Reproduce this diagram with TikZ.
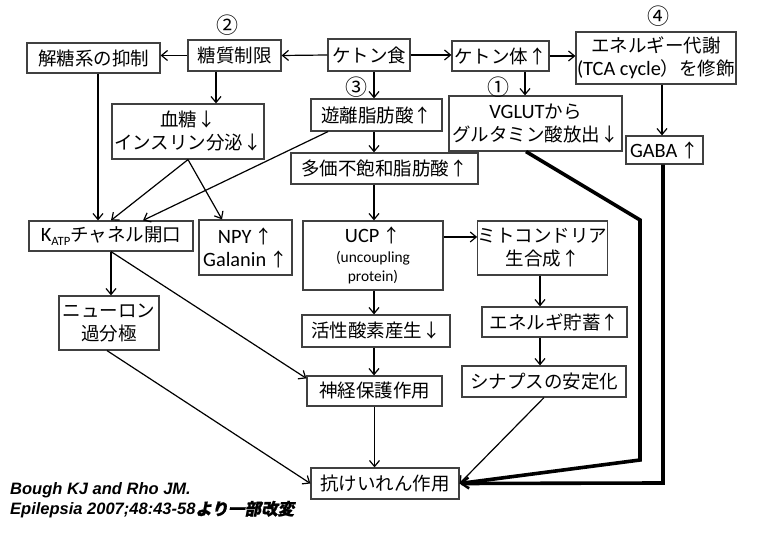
\documentclass[tikz,border=0pt]{standalone}
\usepackage{fontspec}
\setmainfont{Carlito}[Scale=1.1]
\setsansfont{Liberation Sans}
\newfontfamily\jp{Noto Sans CJK JP}
\newfontfamily\jpbi{Noto Sans CJK JP}[FakeSlant=0.2,FakeBold=1]
\newcommand\latn{\rmfamily}
\usetikzlibrary{arrows.meta}
\tikzset{
  box/.style={draw=black!75, line width=1.2pt, fill=white, inner sep=0pt, align=center,
    font=\jp\fontsize{18.5}{23}\selectfont},
  num/.style={inner sep=0pt, font=\jp\fontsize{22}{24}\selectfont},
  arr/.style={line width=1.2pt, -{Straight Barb[length=6pt,width=10pt]}},
  heavy/.style={line width=3.6pt, line join=miter,
    -{Straight Barb[length=8pt,width=11pt,line width=1.4pt]}},
  cite/.style={inner sep=0pt, anchor=base west, font=\sffamily\bfseries\itshape\fontsize{16.5}{20}\selectfont}
}
\begin{document}
\begin{tikzpicture}[x=1pt,y=-1pt]
\useasboundingbox[fill=white] (0,0) rectangle (764,534);

% nodes
\node[box,minimum width=133,minimum height=30] (gly) at (93.5,58) {解糖系の抑制};
\node[box,minimum width=93,minimum height=31] (tos) at (234.5,55.5) {糖質制限};
\node[box,minimum width=82,minimum height=32] (keto) at (369,55) {ケトン食};
\node[box,minimum width=97,minimum height=30] (ktb) at (500.5,56) {ケトン体↑};
\node[box,minimum width=160,minimum height=52] (ene) at (656,58) {エネルギー代謝\\{\latn (TCA cycle}）を修飾};
\node[box,minimum width=173,minimum height=55] (vgl) at (535.5,123.5) {{\latn VGLUT}から\\グルタミン酸放出↓};
\node[box,minimum width=77,minimum height=28] (gaba) at (664.5,150) {{\latn GABA}\,↑};
\node[box,minimum width=152,minimum height=55] (bl) at (188,131.5) {血糖↓\\インスリン分泌↓};
\node[box,minimum width=131,minimum height=32] (ffa) at (376.5,115) {遊離脂肪酸↑};
\node[box,minimum width=187,minimum height=31] (pufa) at (384.5,168.5) {多価不飽和脂肪酸↑};
\node[box,minimum width=164,minimum height=30] (katp) at (111,236) {{\latn K\raisebox{-4pt}{\fontsize{11.5}{12}\selectfont ATP}}チャネル開口};
\node[box,minimum width=93,minimum height=55] (npy) at (245.5,247.5) {{\latn NPY}\,↑\\{\latn Galanin}\,↑};
\node[box,minimum width=140,minimum height=69] (ucp) at (373,255.5) {{\latn UCP}\,↑\\[-3pt]{\latn\fontsize{14}{19}\selectfont (uncoupling}\\[-4pt]{\latn\fontsize{14}{19}\selectfont protein)}};
\node[box,minimum width=119,minimum height=54] (mito) at (542.5,248) {ミトコンドリア\\生合成↑};
\node[box,minimum width=100,minimum height=54] (neu) at (109,323) {ニューロン\\過分極};
\node[box,minimum width=148,minimum height=32] (ros) at (376,331) {活性酸素産生↓};
\node[box,minimum width=135,minimum height=30] (prot) at (374.5,391) {神経保護作用};
\node[box,minimum width=145,minimum height=30] (sto) at (554.5,322) {エネルギ貯蓄↑};
\node[box,minimum width=164,minimum height=31] (syn) at (544,381.5) {シナプスの安定化};
\node[box,minimum width=148,minimum height=31] (anti) at (385,483.5) {抗けいれん作用};

% numbers
\node[num] (n2) at (227,25) {②};
\node[num] (n4) at (658,16) {④};
\node[num] (n1) at (498,87) {①};
\node[num] (n3) at (356,87) {③};

% bend points of heavy lines
\coordinate (b1) at (640,220);
\coordinate (b2) at (640,460);
\coordinate (b3) at (663,483);

% connectors
\draw[arr] (keto.west) -- (tos.east);
\draw[arr] (tos.west) -- (tos.west -| gly.east);
\draw[arr] (keto.east) -- (keto.east -| ktb.west);
\draw[arr] (ktb.east) -- (ktb.east -| ene.west);
\draw[arr] ([xshift=5]keto.south) -- ([xshift=5]keto.south |- ffa.north);
\draw[arr] ([xshift=-18.5]tos.south) -- ([xshift=-18.5]tos.south |- bl.north);
\draw[arr] ([xshift=24.5]ktb.south) -- ([xshift=24.5]ktb.south |- vgl.north);
\draw[arr] ([xshift=6]ene.south) -- ([xshift=6]ene.south |- gaba.north);
\draw[arr] ([xshift=-2.5]ffa.south) -- ([xshift=-2.5]ffa.south |- pufa.north);
\draw[arr] ([xshift=4.5]gly.south) -- ([xshift=4.5]gly.south |- katp.north);
\draw[arr] (bl.south) -- (katp.north);
\draw[arr] (bl.south) -- ([xshift=-23.5]npy.north);
\draw[arr] ([xshift=-48.5]ffa.south) -- ([xshift=32]katp.north);
\draw[arr] ([xshift=-10.5]pufa.south) -- ([xshift=-10.5]pufa.south |- ucp.north);
\draw[arr] ([yshift=18.5]ucp.east) -- ([yshift=18.5]ucp.east -| mito.west);
\draw[arr] ([xshift=1]ucp.south) -- ([xshift=1]ucp.south |- ros.north);
\draw[arr] ([xshift=-2]ros.south) -- ([xshift=-2]ros.south |- prot.north);
\draw[arr] (katp.south) -- (katp.south |- neu.north);
\draw[arr] (katp.south) -- ([yshift=-3]prot.north west);
\draw[arr] ([xshift=-2]neu.south) -- (anti.west);
\draw[arr] (prot.south) -- (prot.south |- anti.north);
\draw[arr] ([xshift=-2.5]mito.south) -- ([xshift=-2.5]mito.south |- sto.north);
\draw[arr] ([xshift=-14.5]sto.south) -- ([xshift=-14.5]sto.south |- syn.north);
\draw[arr] (syn.south) -- (anti.east);
\draw[heavy] ([xshift=-9.5]vgl.south) -- (b1) -- (b2) -- (anti.east);
\draw[heavy] ([xshift=-1.5]gaba.south) -- (b3) -- (anti.east);

% citation
\node[cite] (c1) at (10,495) {Bough KJ and Rho JM.};
\node[cite] (c2) at (10,515) {Epilepsia 2007;48:43-58{\jpbi より一部改変}};
\end{tikzpicture}
\end{document}
